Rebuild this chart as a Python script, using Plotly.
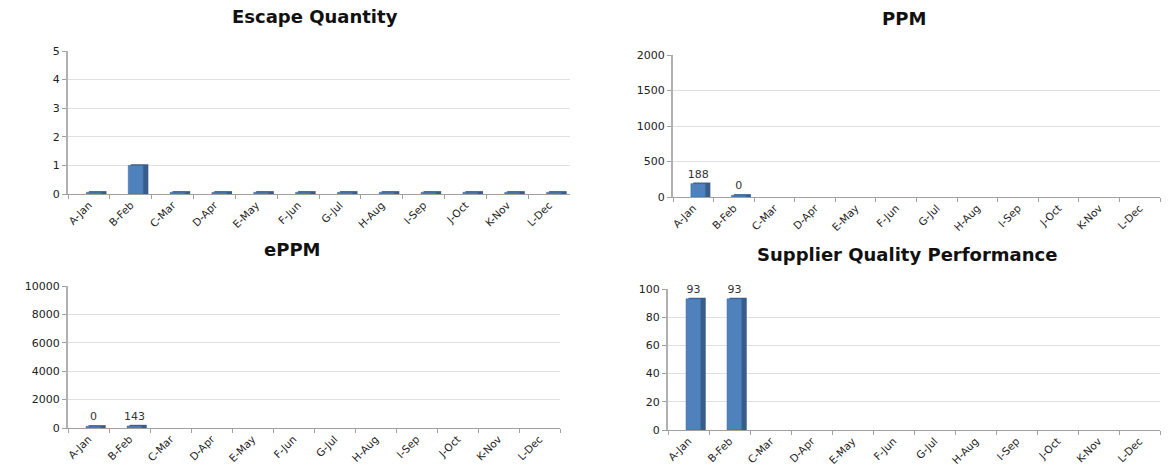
import plotly.graph_objects as go

months = ["A-Jan", "B-Feb", "C-Mar", "D-Apr", "E-May", "F-Jun",
          "G-Jul", "H-Aug", "I-Sep", "J-Oct", "K-Nov", "L-Dec"]
escape_qty = [0, 1, 0, 0, 0, 0, 0, 0, 0, 0, 0, 0]
ppm = [188, 0, None, None, None, None, None, None, None, None, None, None]
eppm = [0, 143, None, None, None, None, None, None, None, None, None, None]
sqp = [93, 93, None, None, None, None, None, None, None, None, None, None]

titles = ["Escape Quantity", "PPM", "ePPM", "Supplier Quality Performance"]
series = [escape_qty, ppm, eppm, sqp]
ranges = [[0, 5], [0, 2000], [0, 10000], [0, 100]]
dticks = [1, 500, 2000, 20]
show_labels = [False, True, True, True]

W, H = 1170, 466
# domains (paper coords)
xdoms = [[68 / W, 570 / W], [673 / W, 1160 / W], [68 / W, 560 / W], [668 / W, 1160 / W]]
ydoms = [[1 - 194 / H, 1 - 51 / H], [1 - 197 / H, 1 - 55 / H],
         [1 - 428 / H, 1 - 286 / H], [1 - 430 / H, 1 - 289 / H]]
title_x = [315, 904, 292, 907]
title_y = [17, 18, 250, 254]

FRONT = "#4F81BD"
SIDE = "#385D8A"
FONT = "DejaVu Sans"

fig = go.Figure()
for i in range(4):
    ax = "" if i == 0 else str(i + 1)
    vals = series[i]
    span = ranges[i][1]
    minh = span * 0.012
    side_vals = [None if v is None else max(v, minh) + span * 0.008 for v in vals]
    fig.add_trace(go.Bar(
        x=months, y=side_vals, xaxis="x" + ax, yaxis="y" + ax,
        marker=dict(color=SIDE, line=dict(width=0)),
        width=0.42, offset=0.0, showlegend=False, hoverinfo="skip"))
    front_vals = [None if v is None else max(v, minh) for v in vals]
    fig.add_trace(go.Bar(
        x=months, y=front_vals, xaxis="x" + ax, yaxis="y" + ax,
        marker=dict(color=FRONT, line=dict(color="#3A6699", width=0.5)),
        width=0.36, offset=-0.06, showlegend=False,
        text=[None if v is None else str(v) for v in vals] if show_labels[i] else None,
        textposition="outside", cliponaxis=False, constraintext="none",
        textfont=dict(size=11, color="#333333", family=FONT),
        hovertext=[None if v is None else str(v) for v in vals]))
    fig.update_layout(**{
        "xaxis" + ax: dict(domain=xdoms[i], anchor="y" + ax, type="category",
                           tickangle=-45, tickson="boundaries", ticks="outside",
                           ticklen=4, tickcolor="#A0A0A0", showline=True,
                           linecolor="#A0A0A0", linewidth=1, showgrid=False,
                           automargin=False,
                           tickfont=dict(size=10.5, color="#222222", family=FONT)),
        "yaxis" + ax: dict(domain=ydoms[i], anchor="x" + ax, range=ranges[i],
                           dtick=dticks[i], tickformat="d", ticks="outside", ticklen=4,
                           tickcolor="#A0A0A0", showline=True, linecolor="#B0B0B0",
                           linewidth=2, showgrid=True, gridcolor="#E0E0E0",
                           zeroline=False, automargin=False,
                           tickfont=dict(size=11, color="#222222", family=FONT)),
    })
    fig.add_annotation(text="<b>" + titles[i] + "</b>", xref="paper", yref="paper",
                       x=title_x[i] / W, y=1 - title_y[i] / H,
                       xanchor="center", yanchor="middle", showarrow=False,
                       font=dict(size=18, color="#111111", family=FONT))

fig.update_layout(width=W, height=H, margin=dict(l=0, r=0, t=0, b=0),
                  plot_bgcolor="white", paper_bgcolor="white",
                  barmode="overlay")
fig.write_html("out.html", config={"displayModeBar": False},
               post_script="document.body.style.margin='0';")
